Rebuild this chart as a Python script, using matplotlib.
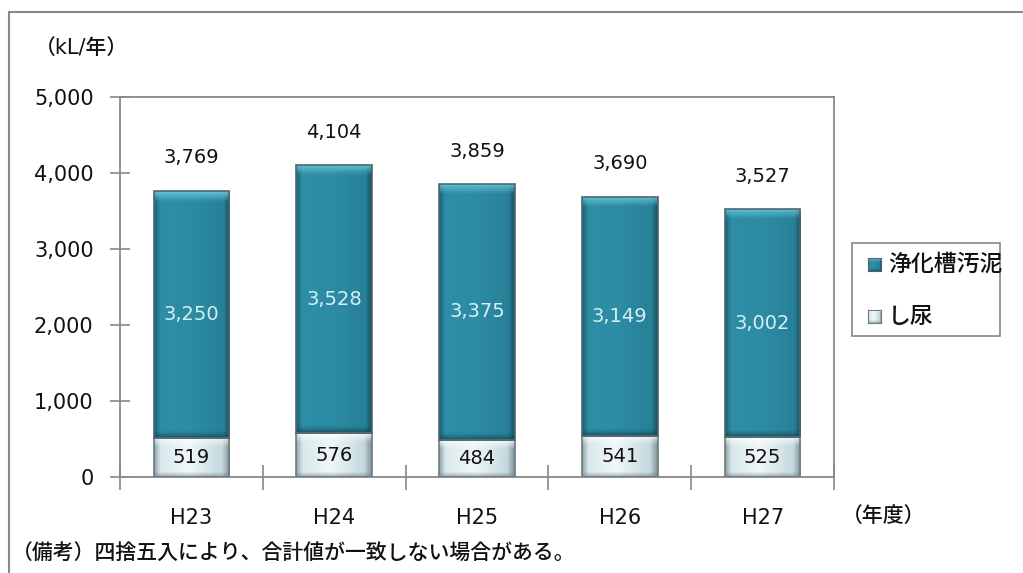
import numpy as np
import matplotlib
matplotlib.use('Agg')
import matplotlib.pyplot as plt
from matplotlib.colors import to_rgb
from matplotlib.patches import Rectangle
from matplotlib.ticker import FuncFormatter

plt.rcParams['font.family'] = ['DejaVu Sans', 'Noto Sans CJK JP']
plt.rcParams['font.weight'] = 500

years = ['H23', 'H24', 'H25', 'H26', 'H27']
shinyo = [519, 576, 484, 541, 525]        # し尿
jokaso = [3250, 3528, 3375, 3149, 3002]   # 浄化槽汚泥
totals = [3769, 4104, 3859, 3690, 3527]

W, H = 1023, 573
fig = plt.figure(figsize=(W / 100, H / 100), dpi=100)
ax = fig.add_axes([120 / W, 1 - 477 / H, 714 / W, 380 / H])

bar_w = 0.53
px = 5000 / 380  # data units per pixel on y


def gradient(h_stops, top_col, bot_col, bevel_frac, bot_frac, n=80):
    t = np.linspace(0, 1, n)
    pos = [p for p, _ in h_stops]
    rgb = np.array([to_rgb(c) for _, c in h_stops])
    row = np.stack([np.interp(t, pos, rgb[:, k]) for k in range(3)], axis=1)
    img = np.repeat(row[None, :, :], n, axis=0)
    v = np.linspace(0, 1, n)  # 0 = bottom, 1 = top
    top_w = np.clip((v - (1 - bevel_frac)) / bevel_frac, 0, 1)[:, None, None]
    bot_w = np.clip((bot_frac - v) / bot_frac, 0, 1)[:, None, None]
    img = img * (1 - 0.75 * top_w) + np.array(to_rgb(top_col)) * 0.75 * top_w
    img = img * (1 - 0.6 * bot_w) + np.array(to_rgb(bot_col)) * 0.6 * bot_w
    return img


teal_h = [(0, '#1d6174'), (0.08, '#2d8ea6'), (0.5, '#2c8ca4'), (0.92, '#278198'), (1, '#17505f')]
light_h = [(0, '#8fa3a9'), (0.08, '#d8e8ec'), (0.45, '#f0f7f9'), (0.9, '#c5d9df'), (1, '#7f9399')]

x = np.arange(len(years))


def shaded_bars(bottoms, heights, h_stops, top_col, bot_col, edge):
    bars = ax.bar(x, heights, bar_w, bottom=bottoms, color='none',
                  edgecolor=edge, linewidth=1.2, zorder=3)
    for b, bot, hgt in zip(bars, bottoms, heights):
        img = gradient(h_stops, top_col, bot_col, min(0.45, 9 * px / hgt), min(0.3, 5 * px / hgt))
        xc = b.get_x()
        im = ax.imshow(img, extent=[xc, xc + bar_w, bot, bot + hgt], origin='lower',
                       aspect='auto', zorder=2, interpolation='bilinear')
        im.set_clip_path(b)
    return bars


shaded_bars([0] * 5, shinyo, light_h, '#ffffff', '#6f8288', '#6d7b80')
shaded_bars(shinyo, jokaso, teal_h, '#6fd0e2', '#12404c', '#4d6670')

for i in x:
    ax.text(i, shinyo[i] / 2, f'{shinyo[i]:,}', ha='center', va='center',
            fontsize=14, color='#111111', zorder=4)
    ax.text(i, shinyo[i] + jokaso[i] / 2, f'{jokaso[i]:,}', ha='center', va='center',
            fontsize=14, color='#d6eef4', zorder=4)
    ax.text(i, totals[i] + 430, f'{totals[i]:,}', ha='center', va='center',
            fontsize=14, color='#111111', zorder=4)

ax.set_xlim(-0.5, 4.5)
ax.set_ylim(0, 5000)
ax.set_yticks(np.arange(0, 5001, 1000))
ax.yaxis.set_major_formatter(FuncFormatter(lambda v, _: f'{int(v):,}'))
ax.set_xticks(x)
ax.set_xticklabels(years)
ax.set_xticks(np.arange(-0.5, 5, 1), minor=True)
ax.tick_params(axis='y', direction='inout', length=14, width=1.2, color='#888888',
               labelsize=15, pad=12, labelcolor='#111111')
ax.tick_params(axis='x', which='major', length=0, labelsize=15, pad=22, labelcolor='#111111')
ax.tick_params(axis='x', which='minor', direction='inout', length=18, width=1.2, color='#888888')
for s in ax.spines.values():
    s.set_color('#888888')
    s.set_linewidth(1.3)
ax.set_facecolor('white')

# legend box and shaded handles
fig.add_artist(Rectangle((852 / W, 1 - 336 / H), 148 / W, 93 / H, transform=fig.transFigure,
                         fill=False, edgecolor='#888888', linewidth=1.2))
for (yc, h_stops, top_col, bot_col, edge, label) in [
        (264, teal_h, '#6fd0e2', '#12404c', '#4d6670', '浄化槽汚泥'),
        (316, light_h, '#ffffff', '#6f8288', '#6d7b80', 'し尿')]:
    lax = fig.add_axes([868 / W, 1 - (yc + 7) / H, 13 / W, 13 / H])
    lax.imshow(gradient(h_stops, top_col, bot_col, 0.3, 0.2), origin='lower',
               aspect='auto', extent=[0, 1, 0, 1], interpolation='bilinear')
    lax.set_xticks([])
    lax.set_yticks([])
    for s in lax.spines.values():
        s.set_color(edge)
    fig.text(888 / W, 1 - yc / H, label, ha='left', va='center', fontsize=16.5, color='#111111')

# outer frame
fig.add_artist(Rectangle((9 / W, -0.05), 1.2, 1 - 12 / H + 0.05, transform=fig.transFigure,
                         fill=False, edgecolor='#888888', linewidth=1.5))

fig.text(35 / W, 1 - 48 / H, '（kL/年）', ha='left', va='center', fontsize=15, color='#111111')
fig.text(842 / W, 1 - 516 / H, '（年度）', ha='left', va='center', fontsize=15, color='#111111')
fig.text(12 / W, 1 - 554 / H, '（備考）四捨五入により、合計値が一致しない場合がある。',
         ha='left', va='center', fontsize=15, color='#111111')

fig.savefig('out.png', dpi=100, facecolor='white')
